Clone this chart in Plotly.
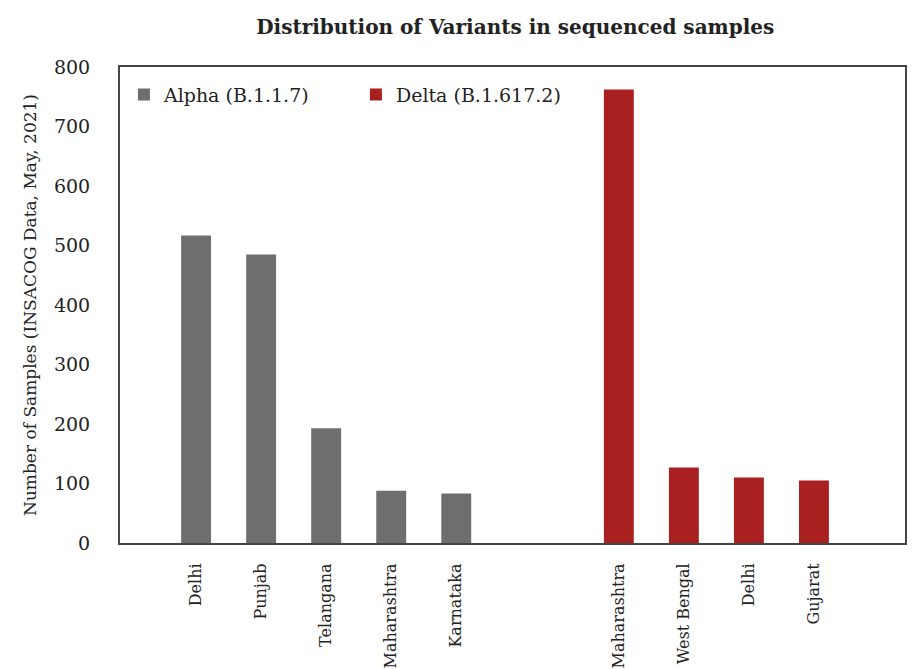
import plotly.graph_objects as go

alpha_states = ["Delhi", "Punjab", "Telangana", "Maharashtra", "Karnataka"]
alpha_values = [517, 485, 193, 88, 83]
delta_states = ["Maharashtra", "West Bengal", "Delhi", "Gujarat"]
delta_values = [762, 127, 110, 105]
y_ticks = [0, 100, 200, 300, 400, 500, 600, 700, 800]

alpha_x = list(range(len(alpha_states)))
delta_x = [len(alpha_states) + 1.5 + i for i in range(len(delta_states))]

font_family = "DejaVu Serif, serif"

fig = go.Figure()
fig.add_trace(go.Bar(x=alpha_x, y=alpha_values, name="Alpha (B.1.1.7)",
                     marker=dict(color="#6e6e6e", line=dict(width=0)), width=0.46))
fig.add_trace(go.Bar(x=delta_x, y=delta_values, name="Delta (B.1.617.2)",
                     marker=dict(color="#a8201f", line=dict(width=0)), width=0.46))

fig.update_layout(
    width=912, height=669,
    margin=dict(l=120, r=7, t=67, b=126, autoexpand=False),
    paper_bgcolor="white", plot_bgcolor="white",
    font=dict(family=font_family, size=15, color="#222"),
    title=dict(text="<b>Distribution of Variants in sequenced samples</b>",
               x=0.565, xanchor="center", y=0.96, yanchor="middle",
               font=dict(size=20, family=font_family, color="#222")),
    showlegend=True,
    legend=dict(orientation="h", x=0.005, y=0.982, xanchor="left", yanchor="top",
                font=dict(size=19, family=font_family), bgcolor="rgba(0,0,0,0)",
                itemwidth=30, entrywidth=187, entrywidthmode="pixels"),
)
fig.update_xaxes(
    tickvals=alpha_x + delta_x, ticktext=alpha_states + delta_states,
    tickangle=-90, range=[-1.17, 10.9], showgrid=False, zeroline=False,
    showline=True, linecolor="#444", linewidth=2, mirror=True,
    tickfont=dict(size=16, family=font_family), ticks="", automargin=False,
    ticklabelstandoff=12,
)
fig.update_yaxes(
    title=dict(text="Number of Samples (INSACOG Data, May, 2021)",
               font=dict(size=17, family=font_family), standoff=13),
    tickvals=y_ticks, range=[0, 800], showgrid=False, zeroline=False,
    showline=True, linecolor="#444", linewidth=2, mirror=True,
    tickfont=dict(size=19, family=font_family), ticks="", ticklabelstandoff=24,
    automargin=False,
)
fig.write_html("out.html", config={"displayModeBar": False},
               post_script="document.body.style.margin='0';")
